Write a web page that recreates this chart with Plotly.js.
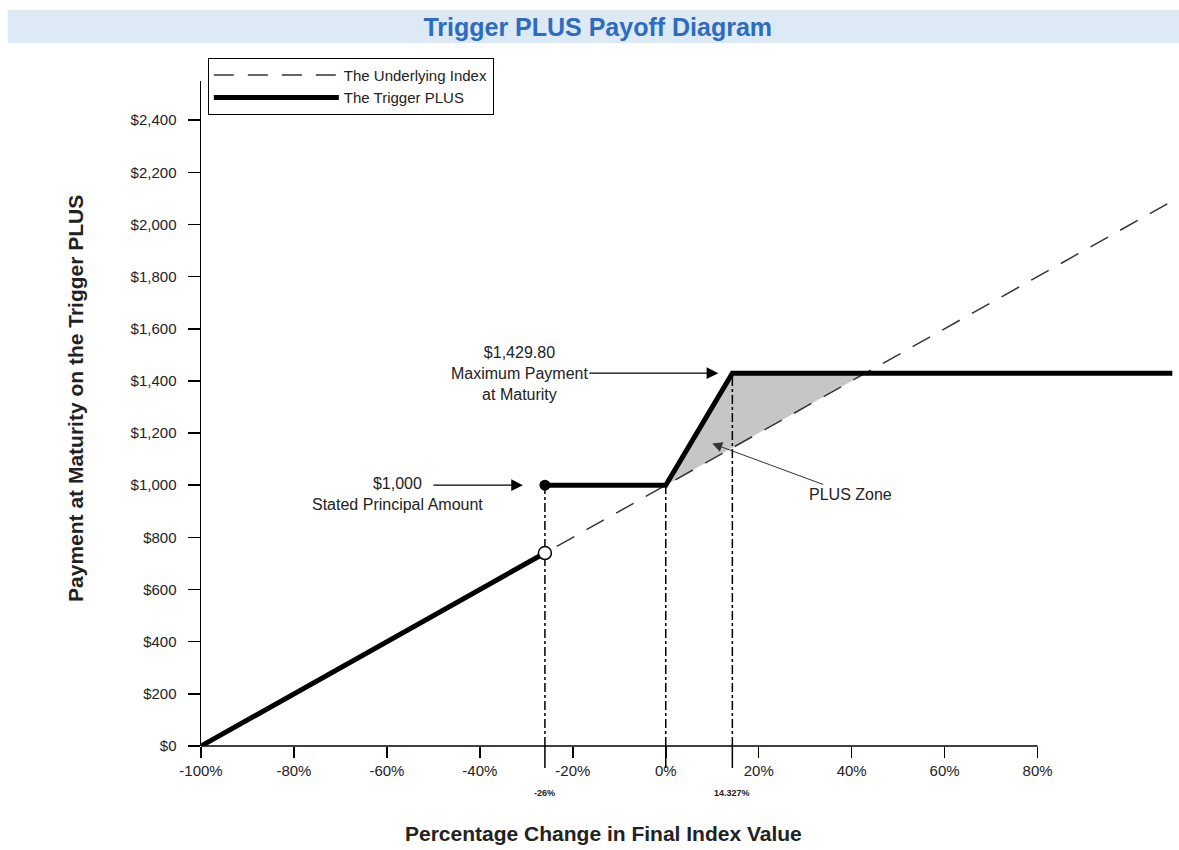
<!DOCTYPE html>
<html>
<head>
<meta charset="utf-8">
<script src="https://cdn.plot.ly/plotly-3.0.1.min.js"></script>
<style>html,body{margin:0;padding:0;background:#fff;}#chart{width:1179px;height:850px;}</style>
</head>
<body>
<div id="chart"></div>
<script>
// ---- Data ----
const indexChange = [-100, 109];            // % change in final index value (x extent)
const indexPayment = [0, 2090];             // underlying index payment ($1,000 x (1 + change))
const triggerLevel = -26;                   // trigger at -26%
const triggerPaymentBelow = 740;            // payment at trigger if breached
const principal = 1000;                     // stated principal amount
const capLevel = 14.327;                    // % change where cap is reached
const maxPayment = 1429.80;                 // maximum payment at maturity
const plusX = [-100, -26, null, -26, 0, 14.327, 109];
const plusY = [0, 740, null, 1000, 1000, 1429.80, 1429.80];
const xTickVals = [-100, -80, -60, -40, -20, 0, 20, 40, 60, 80];
const xTickText = ['-100%', '-80%', '-60%', '-40%', '-20%', '0%', '20%', '40%', '60%', '80%'];
const yTickVals = [0, 200, 400, 600, 800, 1000, 1200, 1400, 1600, 1800, 2000, 2200, 2400];
const yTickText = ['$0', '$200', '$400', '$600', '$800', '$1,000', '$1,200', '$1,400', '$1,600', '$1,800', '$2,000', '$2,200', '$2,400'];
const markerLabels = ['-26%', '14.327%'];
const markerLevels = [triggerLevel, capLevel];

// Index crosses the cap where 1000*(1+x) = maxPayment
const indexAtCap = (maxPayment / principal - 1) * 100;

const FONT = 'Liberation Sans, Arial, sans-serif';

const traces = [
  {
    x: [0, capLevel, indexAtCap], y: [principal, maxPayment, maxPayment],
    type: 'scatter', mode: 'lines', fill: 'toself', fillcolor: '#c6c6c6',
    line: {width: 0}, showlegend: false, hoverinfo: 'skip'
  },
  {
    x: indexChange, y: indexPayment, type: 'scatter', mode: 'lines',
    name: 'The Underlying Index',
    line: {color: '#333', width: 1.5, dash: '20px,14px'}
  },
  {
    x: plusX, y: plusY, type: 'scatter', mode: 'lines',
    name: 'The Trigger PLUS', connectgaps: false,
    line: {color: '#000', width: 5}
  },
  {
    x: [triggerLevel], y: [principal], type: 'scatter', mode: 'markers',
    marker: {color: '#000', size: 11}, showlegend: false, hoverinfo: 'skip'
  },
  {
    x: [triggerLevel], y: [triggerPaymentBelow], type: 'scatter', mode: 'markers',
    marker: {color: '#fff', size: 13, line: {color: '#000', width: 1.5}}, showlegend: false, hoverinfo: 'skip'
  }
];

const shapes = [
  // title band
  {type: 'rect', xref: 'paper', yref: 'paper', x0: -0.198, x1: 1.003, y0: 1.057, y1: 1.107,
   fillcolor: '#dde9f4', line: {width: 0}, layer: 'below'},
  // x-axis line (ends at last tick)
  {type: 'line', xref: 'x', yref: 'paper', x0: xTickVals[0], x1: xTickVals[xTickVals.length - 1], y0: 0, y1: 0,
   line: {color: '#000', width: 1.5}}
];
// dotted guide lines + longer ticks
[[triggerLevel, principal, 'below'], [0, principal, 'above'], [capLevel, maxPayment, 'above']].forEach(function (p) {
  shapes.push({type: 'line', xref: 'x', yref: 'y', x0: p[0], x1: p[0], y0: 0, y1: p[1],
    line: {color: '#000', width: 1.5, dash: 'dashdot'}, layer: p[2]});
  shapes.push({type: 'line', xref: 'x', yref: 'paper', x0: p[0], x1: p[0], y0: 0, y1: -0.033,
    line: {color: '#000', width: 1.5}});
});

const annFont = {family: FONT, size: 16, color: '#222'};
const annotations = [
  {x: capLevel, y: maxPayment, xref: 'x', yref: 'y',
   text: '$1,429.80<br>Maximum Payment<br>at Maturity', font: annFont, align: 'center',
   showarrow: true, ax: -213, ay: 0, standoff: 14, arrowhead: 2, arrowsize: 1.8, arrowwidth: 1.3, arrowcolor: '#000'},
  {x: triggerLevel, y: principal, xref: 'x', yref: 'y', text: '', showarrow: true,
   ax: -113, ay: 0, standoff: 22, arrowhead: 2, arrowsize: 1.8, arrowwidth: 1.3, arrowcolor: '#000'},
  {x: triggerLevel, y: principal, xref: 'x', yref: 'y',
   text: '$1,000<br>Stated Principal Amount', font: annFont, align: 'center',
   showarrow: false, xshift: -147, yshift: -9},
  {x: 10, y: 1160, xref: 'x', yref: 'y', text: 'PLUS Zone', font: annFont,
   showarrow: true, ax: 138, ay: 51, arrowhead: 2, arrowsize: 2, arrowwidth: 1, arrowcolor: '#333'},
  {x: 0.412, y: -0.131, xref: 'paper', yref: 'paper', xanchor: 'center', yanchor: 'middle',
   text: '<b>Percentage Change in Final Index Value</b>',
   showarrow: false, font: {family: FONT, size: 21, color: '#222'}},
  {x: -0.128, y: 0.522, xref: 'paper', yref: 'paper', xanchor: 'center', yanchor: 'middle',
   text: '<b>Payment at Maturity on the Trigger PLUS</b>',
   textangle: -90, showarrow: false, font: {family: FONT, size: 21, color: '#222'}}
];
markerLabels.forEach(function (t, i) {
  annotations.push({x: markerLevels[i], y: -0.081, xref: 'x', yref: 'paper', text: '<b>' + t + '</b>',
    showarrow: false, font: {family: FONT, size: 9, color: '#222'}});
});

const layout = {
  width: 1179, height: 850,
  margin: {l: 201, r: 2, t: 81, b: 104},
  paper_bgcolor: '#fff', plot_bgcolor: '#fff',
  font: {family: FONT, color: '#222', size: 14},
  title: {text: '<b>Trigger PLUS Payoff Diagram</b>', font: {family: FONT, size: 25, color: '#2d6cc0'},
          x: 0.507, xref: 'container', xanchor: 'center', y: 0.968, yref: 'container', yanchor: 'middle'},
  xaxis: {range: [-100, 110], tickvals: xTickVals, ticktext: xTickText, ticks: 'outside', ticklen: 11,
          tickwidth: 1.5, tickcolor: '#000', showline: false, showgrid: false, zeroline: false,
          tickfont: {family: FONT, size: 15, color: '#222'}, fixedrange: true},
  yaxis: {range: [0, 2550], tickvals: yTickVals, ticktext: yTickText, ticks: 'outside', ticklen: 12,
          tickwidth: 1.5, tickcolor: '#000', showline: true, linewidth: 1.5, linecolor: '#000',
          showgrid: false, zeroline: false, ticklabelstandoff: 8,
          tickfont: {family: FONT, size: 15, color: '#222'}, fixedrange: true},
  legend: {x: 0.007, y: 1.035, xanchor: 'left', yanchor: 'top', bgcolor: '#fff',
           bordercolor: '#000', borderwidth: 1, font: {family: FONT, size: 15, color: '#222'},
           itemwidth: 125, tracegroupgap: 0},
  shapes: shapes,
  annotations: annotations,
  showlegend: true
};

Plotly.newPlot('chart', traces, layout, {displayModeBar: false, staticPlot: true});
</script>
</body>
</html>
